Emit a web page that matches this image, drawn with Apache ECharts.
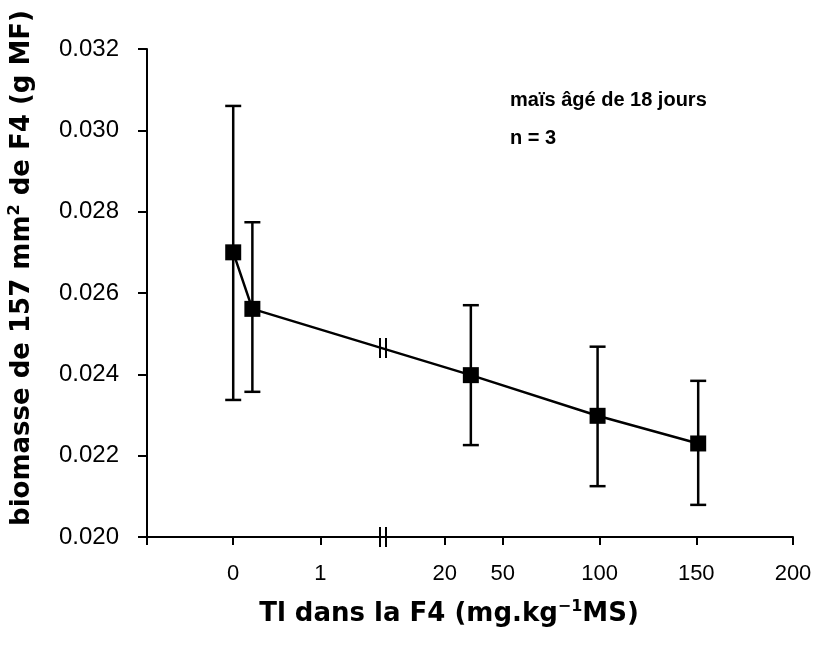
<!DOCTYPE html>
<html><head><meta charset="utf-8">
<script src="https://cdn.jsdelivr.net/npm/echarts@6/dist/echarts.min.js"></script>
<style>html,body{margin:0;padding:0;background:#fff}#c{width:819px;height:645px}</style>
</head><body><div id="c"></div>
<script>
// ---- data ----
const xValues = [0, 0.22, 33.5, 99, 151];           // Tl dans la F4 (mg/kg MS)
const meanValues = [0.0270, 0.02561, 0.02398, 0.02298, 0.02230];
const upperValues = [0.0306, 0.02774, 0.0257, 0.02468, 0.02384];
const lowerValues = [0.02337, 0.02357, 0.02226, 0.02125, 0.02079];
const xTickLabels = [0, 1, 20, 50, 100, 150, 200];
const yMin = 0.020, yMax = 0.032, yStep = 0.002;
const breakLineY = 0.02465;   // where the break marks sit on the line
const annotLines = ['maïs âgé de 18 jours', 'n = 3'];

// ---- broken x scale: two linear segments on one axis ----
const AXIS_LEN = 646, BREAK_U = 236;
const leftDomain = [-0.99, 1.72], rightDomain = [-11.9, 200];
function toAxis(v) {
  if (v <= leftDomain[1]) return (v - leftDomain[0]) / (leftDomain[1] - leftDomain[0]) * BREAK_U;
  return BREAK_U + (v - rightDomain[0]) / (rightDomain[1] - rightDomain[0]) * (AXIS_LEN - BREAK_U);
}
const tickU = xTickLabels.map(toAxis);

const chart = echarts.init(document.getElementById('c'));
const FONT = 'Liberation Sans';
const TFONT = 'DejaVu Sans';

function breakMarks(params, api) {
  const p = api.coord([api.value(0), api.value(1)]);
  const h = 10, d = 3;
  const st = { stroke: '#000', lineWidth: 2 };
  return { type: 'group', children: [
    { type: 'line', shape: { x1: p[0] - d, y1: p[1] - h, x2: p[0] - d, y2: p[1] + h }, style: st },
    { type: 'line', shape: { x1: p[0] + d, y1: p[1] - h, x2: p[0] + d, y2: p[1] + h }, style: st }
  ]};
}

chart.setOption({
  animation: false,
  backgroundColor: '#fff',
  grid: { left: 147, right: 26, top: 49, bottom: 108 },
  xAxis: {
    type: 'value', min: 0, max: AXIS_LEN,
    splitLine: { show: false },
    axisLine: { lineStyle: { color: '#000', width: 2 } },
    axisTick: { show: true, customValues: [0].concat(tickU), length: 8, lineStyle: { color: '#000', width: 2 } },
    axisLabel: {
      customValues: tickU, margin: 26, color: '#000', fontFamily: FONT, fontSize: 22,
      formatter: function (u) {
        let best = 0; tickU.forEach((t, i) => { if (Math.abs(t - u) < Math.abs(tickU[best] - u)) best = i; });
        return String(xTickLabels[best]);
      }
    }
  },
  yAxis: {
    type: 'value', min: yMin, max: yMax, interval: yStep,
    splitLine: { show: false },
    axisLine: { show: true, lineStyle: { color: '#000', width: 2 } },
    axisTick: { show: true, length: 9, lineStyle: { color: '#000', width: 2 } },
    axisLabel: { margin: 28, color: '#000', fontFamily: FONT, fontSize: 24, formatter: v => v.toFixed(3) }
  },
  series: [
    {
      type: 'custom', z: 3,
      data: xValues.map((x, i) => [toAxis(x), lowerValues[i], upperValues[i]]),
      renderItem: function (params, api) {
        const lo = api.coord([api.value(0), api.value(1)]);
        const hi = api.coord([api.value(0), api.value(2)]);
        const w = 8, st = { stroke: '#000', lineWidth: 2.5 };
        return { type: 'group', children: [
          { type: 'line', shape: { x1: lo[0], y1: lo[1], x2: hi[0], y2: hi[1] }, style: st },
          { type: 'line', shape: { x1: lo[0] - w, y1: lo[1], x2: lo[0] + w, y2: lo[1] }, style: st },
          { type: 'line', shape: { x1: hi[0] - w, y1: hi[1], x2: hi[0] + w, y2: hi[1] }, style: st }
        ]};
      }
    },
    {
      type: 'line', z: 4,
      data: xValues.map((x, i) => [toAxis(x), meanValues[i]]),
      lineStyle: { color: '#000', width: 2.5 },
      itemStyle: { color: '#000' },
      symbol: 'rect', symbolSize: 16, showSymbol: true
    },
    {
      type: 'custom', z: 5, clip: false,
      data: [[BREAK_U, breakLineY], [BREAK_U, yMin]],
      renderItem: breakMarks
    }
  ],
  graphic: [
    { type: 'text', left: 510, top: 90, style: { text: annotLines[0], font: 'bold 20px "Liberation Sans"', fill: '#000' } },
    { type: 'text', left: 510, top: 128, style: { text: annotLines[1], font: 'bold 20px "Liberation Sans"', fill: '#000' } },
    { type: 'text', x: 449, y: 614, style: {
      text: '{a|Tl dans la F4 (mg.kg}{s|−1}{a|MS)}', textAlign: 'center', textVerticalAlign: 'middle',
      rich: {
        a: { fontFamily: TFONT, fontWeight: 'bold', fontSize: 26, fill: '#000', lineHeight: 30 },
        s: { fontFamily: TFONT, fontWeight: 'bold', fontSize: 16, fill: '#000', verticalAlign: 'top', lineHeight: 30 }
      } } },
    { type: 'text', x: 22, y: 268, rotation: Math.PI / 2, style: {
      text: '{a|biomasse de 157 mm}{s|2}{a| de F4 (g MF)}', textAlign: 'center', textVerticalAlign: 'middle',
      rich: {
        a: { fontFamily: TFONT, fontWeight: 'bold', fontSize: 26, fill: '#000', lineHeight: 30 },
        s: { fontFamily: TFONT, fontWeight: 'bold', fontSize: 16, fill: '#000', verticalAlign: 'top', lineHeight: 30 }
      } } }
  ]
});
</script></body></html>
